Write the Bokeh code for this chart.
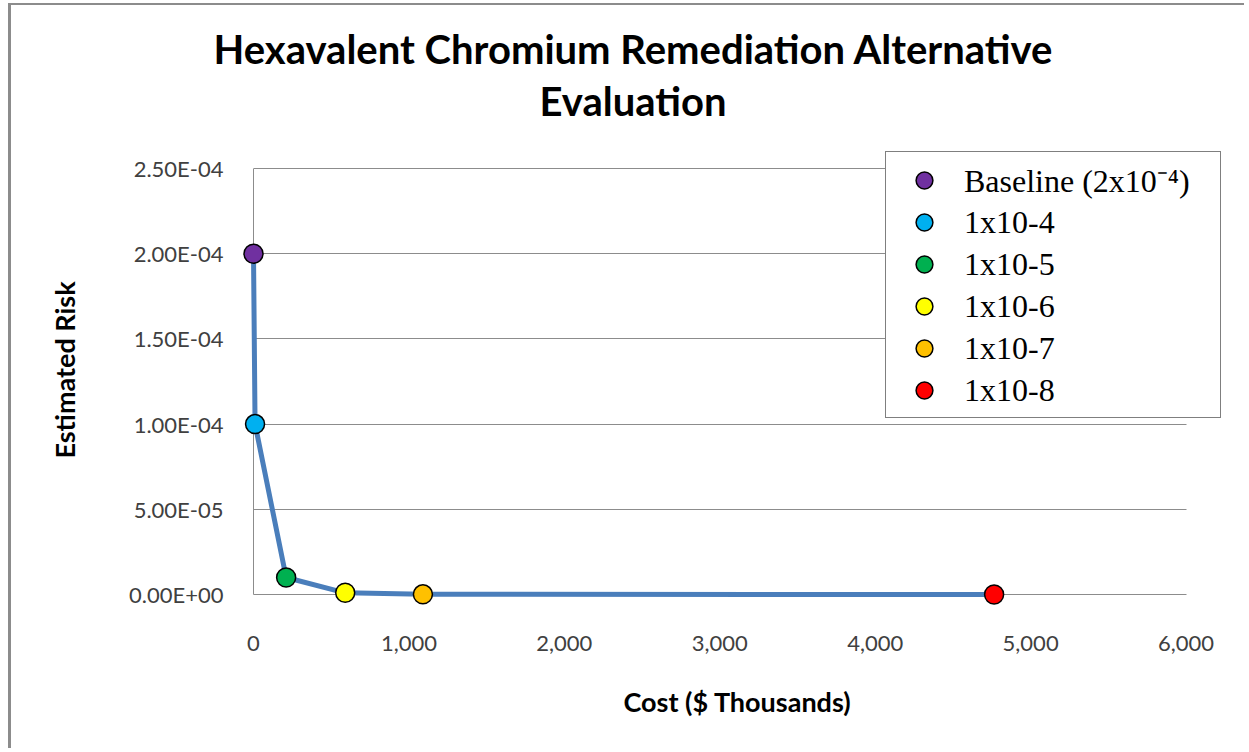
from bokeh.plotting import figure
from bokeh.models import (ColumnDataSource, FixedTicker, NumeralTickFormatter,
                          CustomJSTickFormatter, Legend, LegendItem, Range1d, Title)
from bokeh.embed import file_html
from bokeh.resources import INLINE

# ---- data ----
labels = ["Baseline (2x10\u207b\u2074)", "1x10-4", "1x10-5", "1x10-6", "1x10-7", "1x10-8"]
cost = [0, 10, 210, 590, 1090, 4765]          # $ thousands
risk = [2.0e-4, 1.0e-4, 1.0e-5, 1.0e-6, 1.0e-7, 1.0e-8]
colors = ["#7030A0", "#00B0F0", "#00B050", "#FFFF00", "#FFC000", "#FF0000"]
x_ticks = [0, 1000, 2000, 3000, 4000, 5000, 6000]
y_ticks = [0, 5.0e-5, 1.0e-4, 1.5e-4, 2.0e-4, 2.5e-4]
x_axis_max = 6000
y_axis_max = 2.5e-4
title_lines = ["Hexavalent Chromium Remediation Alternative", "Evaluation"]

src = ColumnDataSource(dict(x=cost, y=risk, c=colors, label=labels))

# frame is a little larger than the axes so the legend box is not clipped
p = figure(width=1236, height=745, output_backend="svg", toolbar_location=None,
           x_range=Range1d(0, 6228), y_range=Range1d(0, 2.6350e-4),
           min_border_left=242, min_border_right=26, min_border_top=140,
           min_border_bottom=156)
p.styles = {"margin-left": "8px", "margin-top": "3px",
            "border-left": "3px solid #8c8c8c", "border-top": "2px solid #8c8c8c"}

def style_title(t, off):
    t.align = "left"
    t.text_font = "Lato"
    t.text_font_style = "bold"
    t.text_font_size = "40px"
    t.text_color = "#000000"
    t.offset = off

p.title.text = title_lines[0]
style_title(p.title, -40)
p.title.standoff = -38
t2 = Title(text=title_lines[1])
style_title(t2, 286)
t2.standoff = 42
p.add_layout(t2, "above")

p.outline_line_color = None
p.background_fill_color = "white"
p.border_fill_color = "white"

# grids
p.xgrid.grid_line_color = None
p.ygrid.grid_line_color = "#8c8c8c"
p.ygrid.grid_line_width = 1
p.ygrid.ticker = FixedTicker(ticks=y_ticks)
p.ygrid.cross_bounds = (0, x_axis_max)

# axes
p.xaxis.ticker = FixedTicker(ticks=x_ticks)
p.xaxis.formatter = NumeralTickFormatter(format="0,0")
p.xaxis.bounds = (0, x_axis_max)
p.yaxis.ticker = FixedTicker(ticks=y_ticks)
p.yaxis.bounds = (0, y_axis_max)
p.yaxis.formatter = CustomJSTickFormatter(code="""
const s = tick.toExponential(2).toUpperCase();
const parts = s.split('E');
const e = parts[1];
let d = e.slice(1);
if (d.length < 2) d = '0' + d;
return parts[0] + 'E' + e[0] + d;
""")
for ax in (p.xaxis[0], p.yaxis[0]):
    ax.axis_line_color = "#8c8c8c"
    ax.axis_line_width = 1
    ax.major_tick_line_color = None
    ax.minor_tick_line_color = None
    ax.major_tick_out = 0
    ax.major_tick_in = 0
    ax.minor_tick_out = 0
    ax.major_label_text_font = "Lato"
    ax.major_label_text_font_size = "22px"
    ax.major_label_text_color = "#404040"
    ax.axis_label_text_font = "Lato"
    ax.axis_label_text_font_style = "bold"
    ax.axis_label_text_font_size = "27px"
    ax.axis_label_text_color = "#000000"
p.xaxis.axis_label = "Cost ($ Thousands)"
p.yaxis.axis_label = "Estimated Risk"
p.xaxis.major_label_standoff = 41
p.xaxis.axis_label_standoff = 31
p.yaxis.major_label_standoff = 30
p.yaxis.axis_label_standoff = 45

# line + markers
ln = p.line("x", "y", source=src, line_color="#4A7EBB", line_width=5,
            line_join="round", level="overlay")
sc = p.scatter("x", "y", source=src, size=19, fill_color="c", line_color="black",
               line_width=1.5, level="overlay")

items = [LegendItem(label=labels[i], renderers=[sc], index=i) for i in range(len(labels))]
legend = Legend(items=items, location=(632, 176))
legend.label_text_font = "Liberation Serif"
legend.label_text_font_size = "32px"
legend.label_text_color = "#000000"
legend.label_height = 42
legend.glyph_height = 42
legend.glyph_width = 64
legend.label_standoff = 8
legend.label_width = 250
legend.spacing = 0
legend.padding = 6
legend.margin = 0
legend.border_line_color = "black"
legend.border_line_width = 1.5
legend.background_fill_color = "white"
legend.background_fill_alpha = 1.0
p.add_layout(legend, "center")

open("out.html", "w").write(file_html(p, INLINE))
